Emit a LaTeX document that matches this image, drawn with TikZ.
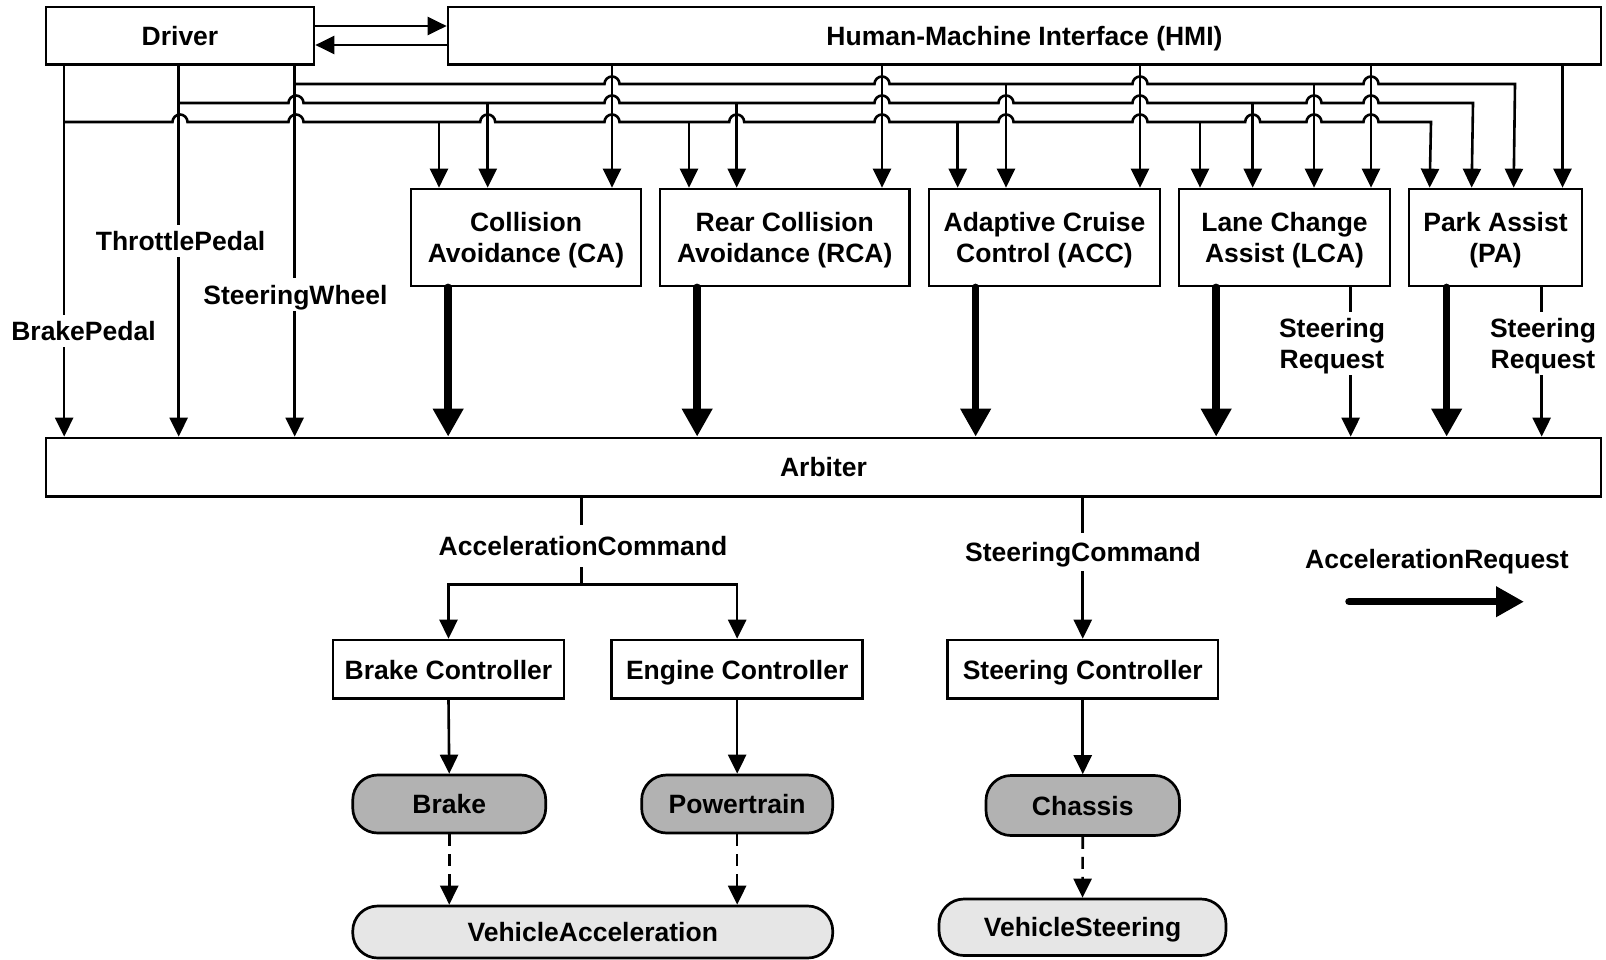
\documentclass[tikz,border=0pt]{standalone}
\usepackage{fontspec}
\setmainfont{Liberation Sans}
\usetikzlibrary{arrows.meta}
\definecolor{darkpill}{RGB}{178,178,178}
\definecolor{lightpill}{RGB}{230,230,230}
\begin{document}
\begin{tikzpicture}[x=1pt,y=1pt,
  font=\fontsize{26.5}{31.5}\selectfont\bfseries,
  wire/.style={line width=2.6pt},
  arr/.style={wire,-{Triangle[length=19pt,width=18pt]}},
  dasharr/.style={arr,dash pattern=on 12pt off 8pt},
  bigarr/.style={line width=7.5pt,line cap=round,-{Triangle[length=28pt,width=29pt]}},
  box/.style={draw,line width=2.7pt,fill=white,align=center,inner sep=0pt,text depth=0pt},
  pill/.style={box,rounded corners=25pt},
  darkpillbox/.style={pill,fill=darkpill},
  lightpillbox/.style={pill,fill=lightpill},
  lab/.style={fill=white,inner xsep=3pt,inner ysep=6.5pt,text depth=0pt,align=center},
]
\useasboundingbox (0,0) rectangle (1606,-959);

% top row
\node[box,minimum width=268pt,minimum height=57.5pt] (driver) at (180,-35.75) {Driver};
\node[box,minimum width=1153pt,minimum height=57.5pt] (hmi) at (1024.5,-35.75) {Human-Machine Interface (HMI)};

% assistance functions
\node[box,minimum width=230pt,minimum height=97pt] (ca)  at (526,-237.5)    {Collision\\Avoidance (CA)};
\node[box,minimum width=249.5pt,minimum height=97pt] (rca) at (784.75,-237.5) {Rear Collision\\Avoidance (RCA)};
\node[box,minimum width=231pt,minimum height=97pt] (acc) at (1044.5,-237.5) {Adaptive Cruise\\Control (ACC)};
\node[box,minimum width=211pt,minimum height=97pt] (lca) at (1284.5,-237.5) {Lane Change\\Assist (LCA)};
\node[box,minimum width=173pt,minimum height=97pt] (pa)  at (1495.5,-237.5) {Park Assist\\(PA)};

% arbiter
\node[box,minimum width=1555pt,minimum height=58.5pt] (arb) at (823.5,-467.25) {Arbiter};

% controllers
\node[box,minimum width=231pt,minimum height=58.7pt] (bc) at (448.5,-669.4) {Brake Controller};
\node[box,minimum width=251pt,minimum height=58.7pt] (ec) at (737.15,-669.4) {Engine Controller};
\node[box,minimum width=270.5pt,minimum height=58.7pt] (sc) at (1082.75,-669.4) {Steering Controller};

% plant
\node[darkpillbox,minimum width=193pt,minimum height=58pt] (brk) at (449.25,-804) {Brake};
\node[darkpillbox,minimum width=191pt,minimum height=58pt] (pt)  at (737.15,-804) {Powertrain};
\node[darkpillbox,minimum width=193.5pt,minimum height=60pt] (ch) at (1082.75,-805.5) {Chassis};
\node[lightpillbox,minimum width=480pt,minimum height=52pt] (va) at (592.75,-932) {VehicleAcceleration};
\node[lightpillbox,minimum width=287pt,minimum height=56.5pt] (vs) at (1082.5,-927.25) {VehicleSteering};

% driver <-> HMI
\coordinate (d2h) at ([yshift=9.75pt]driver.east);
\coordinate (h2d) at ([yshift=-9.25pt]driver.east);
\draw[arr] (d2h) -- (d2h -| hmi.west);
\draw[arr] (h2d -| hmi.west) -- (h2d);

% driver inputs straight to the arbiter
\coordinate (brakeIn)    at ([xshift=19.5pt]driver.south west);
\coordinate (throttleIn) at ([xshift=134pt]driver.south west);
\coordinate (wheelIn)    at ([xshift=250pt]driver.south west);
\foreach \tapname in {brakeIn,throttleIn,wheelIn}
  \draw[arr] (\tapname) -- (\tapname |- arb.north);

% distribution buses with line hops
\draw[arr] (brakeIn |- 0,-122)
  \foreach \h in {180,296,487.7,612,736.7,882,1006,1140,1252.7,1314,1371}
    { -- (\h-7.5,-122) arc[start angle=180,end angle=0,radius=7.5] }
  -- (1431,-122) -- ([xshift=22pt]pa.north west);
\draw[arr] (throttleIn |- 0,-103)
  \foreach \h in {296,612,882,1006,1140,1314,1371}
    { -- (\h-7.5,-103) arc[start angle=180,end angle=0,radius=7.5] }
  -- (1473,-103) -- ([xshift=64pt]pa.north west);
\draw[arr] (wheelIn |- 0,-84)
  \foreach \h in {612,882,1140,1371}
    { -- (\h-7.5,-84) arc[start angle=180,end angle=0,radius=7.5] }
  -- (1515,-84) -- ([xshift=106pt]pa.north west);

% taps from the buses
\foreach \x/\yy/\bx in {439/122/ca,689/122/rca,957.7/122/acc,1200/122/lca,
                        487.7/103/ca,736.7/103/rca,1252.7/103/lca,
                        1006/84/acc,1314/84/lca}{
  \coordinate (tap) at (\x,-\yy);
  \draw[arr] (tap) -- (tap |- \bx.north);
}

% HMI outputs
\foreach \x/\bx in {612/ca,882/rca,1140/acc,1371/lca,1562.5/pa}{
  \coordinate (tap) at (\x,-64.5);
  \draw[arr] (tap |- hmi.south) -- (tap |- \bx.north);
}

% acceleration requests
\foreach \bx/\off in {ca/38.5,rca/38.5,acc/48,lca/38.5,pa/39}{
  \coordinate (tap) at ([xshift=\off pt]\bx.south west);
  \draw[bigarr] (tap) -- (tap |- arb.north);
}

% steering requests
\coordinate (lcaSteer) at ([xshift=173pt]lca.south west);
\coordinate (paSteer)  at ([xshift=134pt]pa.south west);
\draw[arr] (lcaSteer) -- (lcaSteer |- arb.north);
\draw[arr] (paSteer) -- (paSteer |- arb.north);

% labels on the driver lines and steering requests
\node[lab] (lbBrake)    at (83.5,-331)  {BrakePedal};
\node[lab] (lbThrottle) at (180.5,-241) {ThrottlePedal};
\node[lab] (lbWheel)    at (295.5,-294.5) {SteeringWheel};
\node[lab] (lbLcaSteer) at (1332,-343.5) {Steering\\Request};
\node[lab] (lbPaSteer)  at (1543,-343.5) {Steering\\Request};

% arbiter outputs
\coordinate (acTap) at ([xshift=537pt]arb.south west);
\coordinate (acJ) at ([yshift=-86.8pt]acTap);
\draw[wire] (acTap) -- (acJ);
\draw[arr] (acJ) -| (bc.north);
\draw[arr] (acJ) -| (ec.north);
\node[lab,inner ysep=11pt] (lbAcc) at (583,-546) {AccelerationCommand};

\draw[arr] (sc.north |- arb.south) -- (sc.north);
\node[lab,inner ysep=9pt] (lbSteer) at (1083,-552) {SteeringCommand};

% controllers to plant
\draw[arr] (bc.south) -- (brk.north);
\draw[arr] (ec.south) -- (pt.north);
\draw[arr] (sc.south) -- (ch.north);
\draw[dasharr] (brk.south) -- (brk.south |- va.north);
\draw[dasharr] (pt.south) -- (pt.south |- va.north);
\draw[dasharr] (ch.south) -- (vs.north);

% legend
\node (legend) at (1437,-562) {AccelerationRequest};
\coordinate (legA) at (1349,-601.7);
\coordinate (legB) at (1524,-601.7);
\draw[bigarr] (legA) -- (legB);
\end{tikzpicture}
\end{document}
